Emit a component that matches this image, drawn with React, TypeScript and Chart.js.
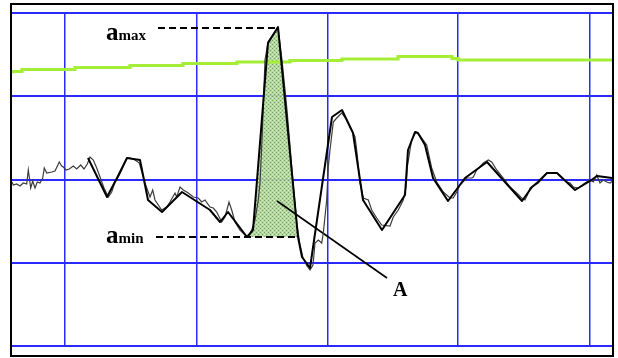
import { useEffect, useRef } from 'react';
import { Chart, registerables } from 'chart.js';

Chart.register(...registerables);

// x: sample index, y: amplitude (arbitrary units)
const SAMPLE_MIN = 0;
const SAMPLE_MAX = 601;
const AMP_MIN = -166;
const AMP_MAX = 167;
const gridSamples = [53, 185, 316, 446, 578];
const gridAmps = [-166, -83, 0, 84, 167];

// green reference level (stepped)
const levelTrace: [number, number][] = [
  [0, 106.5], [10, 108.5], [63, 110.5], [118, 112.5], [171, 114.5], [225, 116.5],
  [278, 118], [330, 119.5], [386, 121], [440, 123.5], [446, 121.5], [538, 120], [601, 120],
];

// smoothed (thick) signal
const smoothTrace: [number, number][] = [
  [76, 22], [95, -17], [105, 2], [115, 22], [128, 20], [136, -20], [150, -32], [170, -12],
  [198, -30], [208, -42], [216, -32], [235, -57], [241, -50], [256, 137], [266, 153],
  [286, -57], [290, -77], [298, -88], [320, 63], [330, 70], [341, 47], [351, -20],
  [370, -50], [393, -15], [396, 30], [403, 48], [406, 47], [413, 35], [421, 2], [436, -21],
  [453, 2], [475, 18], [510, -21], [520, -7], [526, -2], [535, 7], [545, 7], [563, -10],
  [578, -1], [585, 4], [600, 2],
];

// raw (thin, noisy) signal
const rawTrace: [number, number][] = [
  [0, -2], [1.3, -5], [4.7, -4], [8, -6], [11.3, -3], [14.7, -4], [16.3, 10], [18.7, -8],
  [20.7, -1], [23, -8], [25.3, -2], [28, -3], [30.7, 2], [32.3, 12], [34.7, 7], [39.7, 8],
  [43, 9], [47.3, 18], [49.7, 14], [51.3, 13], [54, 10], [57.3, 11], [61.3, 14], [64.7, 11],
  [68.7, 15], [72, 11], [75.3, 16], [78, 23], [81.3, 20], [84.7, 12], [88, 3], [92, -8],
  [96.3, -17], [99.7, -12], [103, -2], [106.3, 3], [109.7, 10], [114.7, 22], [118, 22],
  [123, 20], [127.3, 17], [133, -3], [138, -17], [140.7, -10], [143, -20], [149.7, -30],
  [154.7, -27], [158, -22], [163, -13], [164.7, -17], [168, -7], [171.3, -10], [176.3, -13],
  [181.3, -17], [186.3, -18], [189.7, -22], [193, -20], [198, -27], [201.3, -28], [204.7, -32],
  [209.7, -42], [213, -37], [217, -22], [219.7, -30], [223, -42], [228, -50], [233, -55],
  [236.3, -57], [239.7, -50], [243, -40], [246.3, -20], [248, -3], [250, 40], [253, 120],
  [256, 138], [260, 144], [266, 152], [270, 120], [275, 70], [280, 10], [285, -45], [288, -65],
  [291, -78], [295, -86], [298, -90], [301, -85], [303, -63], [306.3, -60], [309.7, -63],
  [311.3, -53], [314.7, -20], [316.3, 13], [318, 30], [321.3, 58], [324.7, 62], [329.7, 67],
  [334.7, 60], [339.7, 50], [343, 43], [344.7, 30], [348, -3], [351.3, -18], [356.3, -20],
  [359.7, -30], [364.7, -38], [369.7, -45], [378, -46], [381.3, -37], [386.3, -30], [391.3, -20],
  [394, -7], [395.3, 13], [398, 30], [399.7, 40], [404, 48], [407.3, 45], [414.7, 35],
  [419.7, 12], [424.7, -2], [431.3, -12], [438, -18], [441.3, -18], [444.7, -12], [448, -5],
  [454.7, 2], [459.7, 2], [461.3, 3], [464.7, 10], [471.3, 17], [476.3, 20], [479.7, 18],
  [484.7, 10], [491.3, 2], [498, -7], [504.7, -13], [509.7, -18], [513, -20], [516.3, -13],
  [518, -8], [526.3, -3], [534.7, 7], [544.7, 7], [554.7, -2], [558, -3], [561.3, -7],
  [566.3, -8], [573, -3], [578, 0], [581.3, -2], [584.7, 5], [588, -3], [591.3, 0],
  [594.7, -2], [598, -3], [600.7, -1],
];

// shaded pulse area A (above a_min)
const pulseArea: [number, number][] = [
  [235, -57], [241, -50], [256, 137], [266, 153], [286, -57],
];
const A_MIN = -57;
const A_MAX = 152;
const aMaxLine: [number, number][] = [[146, A_MAX], [265, A_MAX]];
const aMinLine: [number, number][] = [[144, A_MIN], [286, A_MIN]];
const pointerLine: [number, number][] = [[265, -21], [375, -98]];

const textLabels = [
  { x: 94, y: 140, main: 'a', sub: 'max' },
  { x: 94, y: -63, main: 'a', sub: 'min' },
  { x: 381, y: -116, main: 'A', sub: '' },
];

const toXY = (arr: [number, number][]) => arr.map(([x, y]) => ({ x, y }));

export default function App() {
  const ref = useRef<HTMLCanvasElement>(null);

  useEffect(() => {
    const canvas = ref.current!;
    const ctx = canvas.getContext('2d')!;
    const pc = document.createElement('canvas');
    pc.width = 4;
    pc.height = 4;
    const pg = pc.getContext('2d')!;
    pg.fillStyle = 'rgba(172,212,150,0.92)';
    pg.fillRect(0, 0, 4, 4);
    pg.fillStyle = 'rgba(110,160,90,0.95)';
    pg.fillRect(0, 0, 1, 1);
    pg.fillRect(2, 2, 1, 1);
    pg.fillStyle = 'rgba(225,240,215,0.9)';
    pg.fillRect(2, 0, 1, 1);
    pg.fillRect(0, 2, 1, 1);
    const pattern = ctx.createPattern(pc, 'repeat') || 'rgba(170,210,150,0.8)';

    const decor = {
      id: 'decor',
      afterDraw(chart: any) {
        const c = chart.ctx;
        const area = chart.chartArea;
        const xs = chart.scales.x;
        const ys = chart.scales.y;
        c.save();
        c.strokeStyle = '#000';
        c.lineWidth = 2;
        c.strokeRect(area.left - 1, area.top - 9, area.right - area.left + 1, area.bottom - area.top + 10 + 9);
        c.fillStyle = '#000';
        c.textBaseline = 'alphabetic';
        for (const l of textLabels) {
          const px = xs.getPixelForValue(l.x);
          const py = ys.getPixelForValue(l.y);
          c.font = l.sub ? 'bold 25px "Liberation Serif"' : 'bold 20px "Liberation Serif"';
          c.fillText(l.main, px, py);
          if (l.sub) {
            const w = c.measureText(l.main).width;
            c.font = 'bold 15px "Liberation Serif"';
            c.fillText(l.sub, px + w, py);
          }
        }
        c.restore();
      },
    };

    const chart = new Chart(canvas, {
      type: 'line',
      data: {
        datasets: [
          {
            data: toXY(smoothTrace),
            borderColor: '#000',
            borderWidth: 2,
            borderJoinStyle: 'round',
            pointRadius: 0,
            fill: false,
          },
          {
            data: toXY(rawTrace),
            borderColor: '#3c3c3c',
            borderWidth: 1.2,
            pointRadius: 0,
            fill: false,
          },
          {
            data: toXY(aMaxLine),
            borderColor: '#000',
            borderWidth: 2,
            borderDash: [7, 4],
            pointRadius: 0,
            fill: false,
          },
          {
            data: toXY(aMinLine),
            borderColor: '#000',
            borderWidth: 2,
            borderDash: [7, 4],
            pointRadius: 0,
            fill: false,
          },
          {
            data: toXY(pointerLine),
            borderColor: '#000',
            borderWidth: 1.6,
            pointRadius: 0,
            fill: false,
          },
          {
            data: toXY(levelTrace),
            borderColor: '#a4ef36',
            borderWidth: 3.2,
            stepped: 'after',
            pointRadius: 0,
            fill: false,
          },
          {
            data: toXY(pulseArea),
            borderColor: 'rgba(0,0,0,0)',
            borderWidth: 0,
            backgroundColor: pattern as any,
            pointRadius: 0,
            fill: { value: A_MIN },
          },
        ] as any,
      },
      options: {
        animation: false,
        responsive: false,
        devicePixelRatio: 1,
        layout: { padding: { left: 12, top: 13, right: 5, bottom: 12 } },
        plugins: { legend: { display: false }, tooltip: { enabled: false }, title: { display: false } },
        elements: { line: { tension: 0 } },
        scales: {
          x: {
            type: 'linear',
            min: SAMPLE_MIN,
            max: SAMPLE_MAX,
            afterBuildTicks: (axis: any) => {
              axis.ticks = gridSamples.map((v) => ({ value: v }));
            },
            grid: { color: '#2a2aff', lineWidth: 1.5, drawTicks: false },
            border: { display: false },
            ticks: { display: false },
          },
          y: {
            type: 'linear',
            min: AMP_MIN,
            max: AMP_MAX,
            afterBuildTicks: (axis: any) => {
              axis.ticks = gridAmps.map((v) => ({ value: v }));
            },
            grid: { color: '#2a2aff', lineWidth: 2, drawTicks: false },
            border: { display: false },
            ticks: { display: false },
          },
        },
      } as any,
      plugins: [decor],
    });
    return () => chart.destroy();
  }, []);

  return (
    <div style={{ position: 'fixed', left: 0, top: 0, width: 618, height: 358, background: '#fff' }}>
      <canvas ref={ref} width={618} height={358} style={{ display: 'block', width: 618, height: 358 }} />
    </div>
  );
}
